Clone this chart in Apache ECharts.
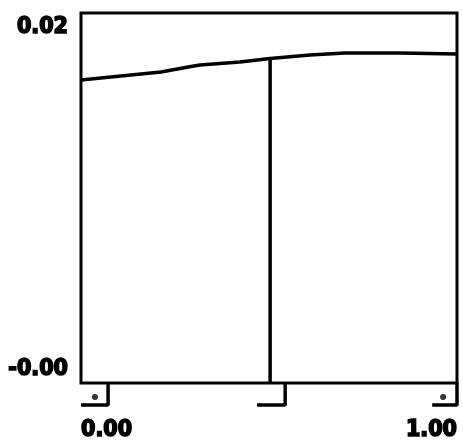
<!DOCTYPE html>
<html>
<head>
<meta charset="utf-8">
<script src="https://cdn.jsdelivr.net/npm/echarts@6/dist/echarts.min.js"></script>
<style>
  html, body { margin: 0; padding: 0; background: #fff; }
  #chart { width: 463px; height: 444px; }
</style>
</head>
<body>
<div id="chart"></div>
<script>
// Effect curve
const curveX = [0.000, 0.106, 0.213, 0.285, 0.316, 0.423, 0.503, 0.609, 0.702, 0.848, 1.000];
const curveY = [0.01685, 0.01709, 0.01732, 0.01762, 0.01774, 0.01791, 0.01812, 0.01833, 0.01844, 0.01844, 0.01838];

// Reference value marked by a vertical line
const refX = 0.503;
const refY = 0.01812;

// Axis ranges and tick labels
const yMin = -0.001, yMax = 0.0208;
const yTickValues = [-0.00018, 0.02];
const xTickValues = [0, 1];

// Rug markers under the plot: [vertical stroke x, horizontal end x]
const rugMarks = [[0.072, 0.000], [0.543, 0.468], [1.000, 0.934]];
const rugDotsX = [0.037, 0.963];
const rugDotY = 0.36;

const labelStyle = {
  color: '#000', fontFamily: 'DejaVu Sans Condensed', fontWeight: 'bold', fontSize: 23,
  textBorderColor: '#000', textBorderWidth: 1.6
};
const chart = echarts.init(document.getElementById('chart'), null, { renderer: 'canvas' });

const rugSeries = rugMarks.map(m => ({
  type: 'line', xAxisIndex: 1, yAxisIndex: 1,
  data: [[m[0], 1], [m[0], 0], [m[1], 0]],
  showSymbol: false, clip: false, silent: true,
  lineStyle: { color: '#000', width: 3.5 }
}));

chart.setOption({
  animation: false,
  backgroundColor: '#fff',
  grid: [
    { left: 81, top: 13, width: 376, height: 370, show: true, borderColor: '#000', borderWidth: 3, backgroundColor: 'transparent' },
    { left: 81, top: 383, width: 376, height: 22, show: false }
  ],
  xAxis: [
    { type: 'value', gridIndex: 0, min: 0, max: 1,
      axisLine: { show: false }, axisTick: { show: false }, axisLabel: { show: false }, splitLine: { show: false } },
    { type: 'value', gridIndex: 1, min: 0, max: 1,
      axisLine: { show: false }, axisTick: { show: false }, splitLine: { show: false },
      axisLabel: Object.assign({
        customValues: xTickValues, margin: 14,
        alignMinLabel: 'left', alignMaxLabel: 'right',
        formatter: v => v.toFixed(2)
      }, labelStyle) }
  ],
  yAxis: [
    { type: 'value', gridIndex: 0, min: yMin, max: yMax,
      axisLine: { show: false }, axisTick: { show: false }, splitLine: { show: false },
      axisLabel: Object.assign({
        customValues: yTickValues, margin: 13,
        formatter: v => v.toFixed(2)
      }, labelStyle) },
    { type: 'value', gridIndex: 1, min: 0, max: 1,
      axisLine: { show: false }, axisTick: { show: false }, axisLabel: { show: false }, splitLine: { show: false } }
  ],
  series: [
    { type: 'line', xAxisIndex: 0, yAxisIndex: 0,
      data: curveX.map((x, i) => [x, curveY[i]]),
      showSymbol: false, silent: true,
      lineStyle: { color: '#000', width: 3.5 } },
    { type: 'line', xAxisIndex: 0, yAxisIndex: 0,
      data: [[refX, yMin], [refX, refY]],
      showSymbol: false, silent: true,
      lineStyle: { color: '#000', width: 3.5 } },
    ...rugSeries,
    { type: 'scatter', xAxisIndex: 1, yAxisIndex: 1,
      data: rugDotsX.map(x => [x, rugDotY]),
      symbol: 'circle', symbolSize: 6, clip: false, silent: true,
      itemStyle: { color: '#000' } }
  ]
});
</script>
</body>
</html>
